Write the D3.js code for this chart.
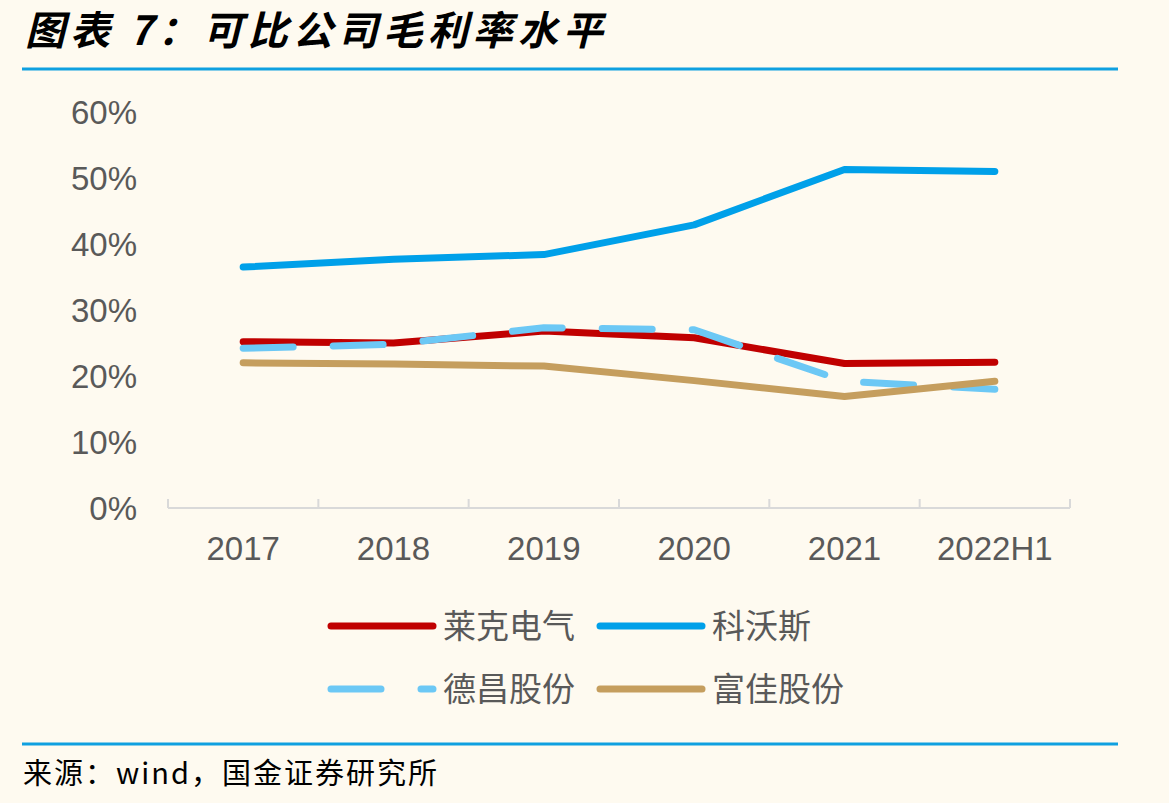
<!DOCTYPE html>
<html>
<head>
<meta charset="utf-8">
<script src="https://cdn.jsdelivr.net/npm/d3@7"></script>
<style>
  html, body { margin: 0; padding: 0; background: #fefaf0; }
  svg { display: block; }
</style>
</head>
<body>
<div id="chart"></div>
<script>
const width = 1169
const height = 803
const margins = { top: 112, bottom: 295, left: 168, right: 99 }

// data
const categories = ['2017', '2018', '2019', '2020', '2021', '2022H1']
const laike = [0.252, 0.250, 0.268, 0.258, 0.219, 0.221]   // 莱克电气
const kewosi = [0.365, 0.377, 0.384, 0.429, 0.513, 0.510]  // 科沃斯
const dechang = [0.242, 0.248, 0.273, 0.270, 0.192, 0.180] // 德昌股份
const fujia = [0.220, 0.218, 0.215, 0.193, 0.169, 0.192]   // 富佳股份
const yTicks = [0, 0.1, 0.2, 0.3, 0.4, 0.5, 0.6]

const series = [
    { name: '莱克电气', values: laike, color: '#c00000', dash: null },
    { name: '科沃斯', values: kewosi, color: '#00a0e9', dash: null },
    { name: '德昌股份', values: dechang, color: '#6cc8f5', dash: '50,40' },
    { name: '富佳股份', values: fujia, color: '#c59e5e', dash: null }
]

const svg = d3.select('div#chart').append('svg').attr('width', width).attr('height', height)
svg.append('rect').attr('width', width).attr('height', height).attr('fill', '#fefaf0')

// title + rules
svg.append('text').attr('x', 25).attr('y', 45)
    .attr('font-family', '"Noto Sans CJK SC", sans-serif')
    .attr('font-size', 40).attr('font-weight', 'bold').attr('font-style', 'italic')
    .attr('letter-spacing', 5).attr('fill', '#000')
    .text('图表 7：可比公司毛利率水平')
svg.append('line').attr('x1', 22).attr('x2', 1118).attr('y1', 69).attr('y2', 69)
    .attr('stroke', '#0fa0e0').attr('stroke-width', 3)
svg.append('line').attr('x1', 22).attr('x2', 1118).attr('y1', 744).attr('y2', 744)
    .attr('stroke', '#0fa0e0').attr('stroke-width', 3)
svg.append('text').attr('x', 23).attr('y', 784)
    .attr('font-family', '"Noto Sans CJK SC", sans-serif')
    .attr('font-size', 29).attr('letter-spacing', 2).attr('fill', '#000')
    .text('来源：wind，国金证券研究所')

// scales
const x = d3.scaleBand().domain(categories).range([margins.left, width - margins.right])
const y = d3.scaleLinear().domain([0, 0.6]).range([height - margins.bottom, margins.top])
const cx = d => x(d) + x.bandwidth() / 2

// y axis labels (no axis line)
const yAxis = d3.axisLeft(y).tickValues(yTicks).tickFormat(d3.format('.0%')).tickSize(0).tickPadding(0)
const yAxisGroup = svg.append('g').attr('transform', 'translate(137,0)').call(yAxis)
yAxisGroup.select('.domain').remove()
yAxisGroup.selectAll('text')
    .attr('font-family', '"Liberation Sans", Arial, sans-serif')
    .attr('font-size', 33).attr('fill', '#595959').attr('dy', '0.35em')

// x axis
const xAxisGroup = svg.append('g').attr('transform', `translate(0,${y(0)})`)
xAxisGroup.append('line').attr('x1', x.range()[0]).attr('x2', x.range()[1])
    .attr('stroke', '#d9d9d9').attr('stroke-width', 2)
const edges = categories.map(c => x(c)).concat([x.range()[1]])
xAxisGroup.selectAll('line.tick').data(edges).join('line').attr('class', 'tick')
    .attr('x1', d => d).attr('x2', d => d).attr('y1', 0).attr('y2', -9)
    .attr('stroke', '#d9d9d9').attr('stroke-width', 2)
xAxisGroup.selectAll('text').data(categories).join('text')
    .attr('x', d => cx(d)).attr('y', 40).attr('dy', '0.35em')
    .attr('text-anchor', 'middle')
    .attr('font-family', '"Liberation Sans", Arial, sans-serif')
    .attr('font-size', 33).attr('fill', '#595959')
    .text(d => d)

// lines
const line = d3.line().x((d, i) => cx(categories[i])).y(d => y(d))
const lineGroup = svg.append('g')
series.forEach(s => {
    lineGroup.append('path').datum(s.values)
        .attr('d', line)
        .attr('fill', 'none')
        .attr('stroke', s.color)
        .attr('stroke-width', 7)
        .attr('stroke-linecap', 'round')
        .attr('stroke-linejoin', 'round')
        .attr('stroke-dasharray', s.dash)
})

// legend
const legendPos = [[331, 626], [600, 626], [331, 689], [600, 689]]
const legend = svg.append('g')
series.forEach((s, i) => {
    const [lx, ly] = legendPos[i]
    legend.append('line').attr('x1', lx).attr('x2', lx + 102).attr('y1', ly).attr('y2', ly)
        .attr('stroke', s.color).attr('stroke-width', 7).attr('stroke-linecap', 'round')
        .attr('stroke-dasharray', s.dash)
    legend.append('text').attr('x', lx + 112).attr('y', ly).attr('dy', '0.36em')
        .attr('font-family', '"Noto Sans CJK SC", sans-serif')
        .attr('font-size', 33).attr('fill', '#595959')
        .text(s.name)
})
</script>
</body>
</html>
